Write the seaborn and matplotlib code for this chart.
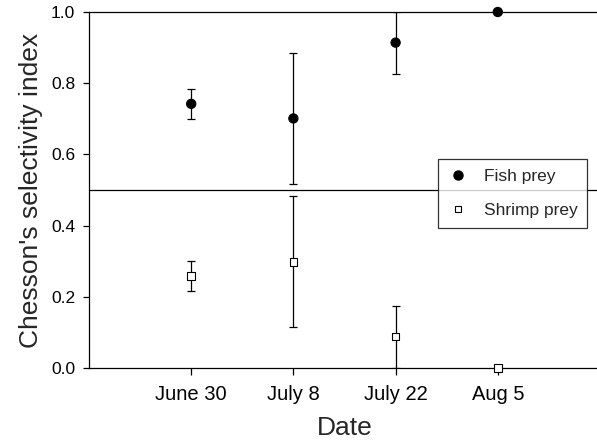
import numpy as np
import pandas as pd
import matplotlib
matplotlib.use("Agg")
import matplotlib.pyplot as plt
import seaborn as sns
from matplotlib.lines import Line2D

dates = ["June 30", "July 8", "July 22", "Aug 5"]
fish_mean = [0.742, 0.701, 0.914, 1.0]
fish_err = [0.043, 0.184, 0.087, 0.0]
shrimp_mean = [0.258, 0.298, 0.088, 0.0]
shrimp_err = [0.042, 0.184, 0.087, 0.0]
y_ticks = [0.0, 0.2, 0.4, 0.6, 0.8, 1.0]

sns.set_theme(style="ticks")
plt.rcParams['font.family'] = ['Liberation Sans', 'DejaVu Sans']

pos = np.arange(len(dates))
df = pd.DataFrame({
    "pos": np.concatenate([pos, pos]),
    "value": fish_mean + shrimp_mean,
    "err": fish_err + shrimp_err,
    "series": ["Fish prey"] * len(dates) + ["Shrimp prey"] * len(dates),
})

fig = plt.figure(figsize=(5.97, 4.43), dpi=100)
ax = fig.add_axes([89 / 597, 75 / 443, 1 - 89 / 597 + 0.005, 356 / 443])

# error bars
for s in ["Fish prey", "Shrimp prey"]:
    d = df[df["series"] == s]
    m = d["err"] > 0
    ax.errorbar(d["pos"][m], d["value"][m], yerr=d["err"][m], fmt="none",
                ecolor="black", elinewidth=0.9, capsize=3, capthick=0.9, zorder=2)

ax.axhline(0.5, color="black", lw=0.9, zorder=1)
ax.axhline(1.0, color="black", lw=0.9, zorder=1, clip_on=False)

sns.scatterplot(data=df, x="pos", y="value", hue="series", style="series",
                size="series",
                sizes={"Fish prey": 44, "Shrimp prey": 30},
                palette={"Fish prey": "black", "Shrimp prey": "white"},
                markers={"Fish prey": "o", "Shrimp prey": "s"},
                edgecolor="black", linewidth=0.8, ax=ax, zorder=3,
                clip_on=False, legend=False)

handles = [Line2D([], [], marker="o", ls="none", color="black", markersize=6.5),
           Line2D([], [], marker="s", ls="none", markerfacecolor="white",
                  markeredgecolor="black", markersize=5, markeredgewidth=0.8)]
leg = fig.legend(handles, ["Fish prey", "Shrimp prey"], loc="upper left",
                 bbox_to_anchor=(438 / 597, 1 - 159 / 443), fontsize=12.5,
                 frameon=True, fancybox=False, edgecolor="black",
                 labelspacing=1.1, handletextpad=0.9, borderpad=0.55,
                 handlelength=1.2, borderaxespad=0)
leg.get_frame().set_linewidth(0.9)

ax.set_xlim(-1, 4)
ax.set_ylim(0, 1.0)
ax.set_xticks(pos)
ax.set_xticklabels(dates, fontsize=14.5)
ax.set_yticks(y_ticks)
ax.set_yticklabels([f"{v:.1f}" for v in y_ticks], fontsize=12.5)
ax.tick_params(axis="y", length=4, width=0.9, pad=6, colors="black")
ax.tick_params(axis="x", length=5, width=0.9, pad=7, colors="black")
ax.set_xlabel("Date", fontsize=19, labelpad=9)
ax.set_ylabel("Chesson's selectivity index", fontsize=19, labelpad=6)
sns.despine(ax=ax, top=True, right=True)
for sp in ["left", "bottom"]:
    ax.spines[sp].set_linewidth(0.9)
    ax.spines[sp].set_color("black")

fig.savefig("out.png", dpi=100, facecolor="white")
